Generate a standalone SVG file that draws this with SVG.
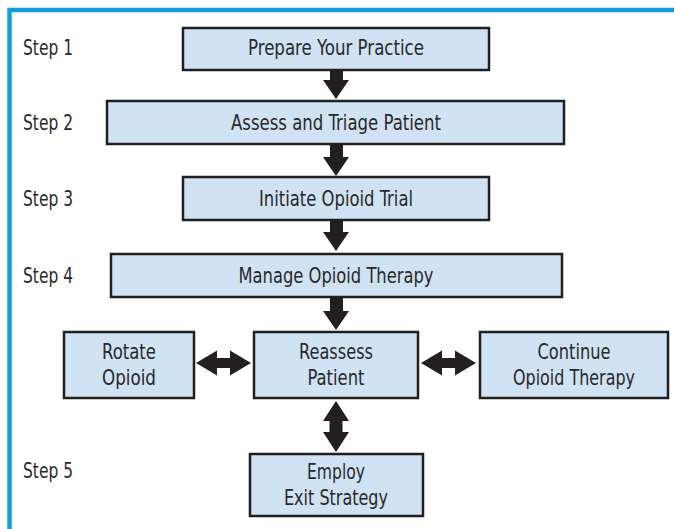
<svg xmlns="http://www.w3.org/2000/svg" width="674" height="529" viewBox="0 0 674 529">
<defs>
<style>
.box{fill:#cfe3f4;stroke:#231f20;stroke-width:2.5}
.t{font-family:"Liberation Sans Narrow","DejaVu Sans Condensed","Liberation Sans",sans-serif;font-size:21.5px;fill:#2b2828}
.c{text-anchor:middle}
.arr{fill:#231f20}
</style>
</defs>
<rect width="674" height="529" fill="#ffffff"/>
<path d="M9.5 529 V10 H674" fill="none" stroke="#139fdc" stroke-width="4.5"/>
<g id="labels">
<text class="t" x="23" y="55" textLength="50" lengthAdjust="spacingAndGlyphs">Step 1</text>
<text class="t" x="23" y="130" textLength="50" lengthAdjust="spacingAndGlyphs">Step 2</text>
<text class="t" x="23" y="206" textLength="50" lengthAdjust="spacingAndGlyphs">Step 3</text>
<text class="t" x="23" y="283" textLength="50" lengthAdjust="spacingAndGlyphs">Step 4</text>
<text class="t" x="23" y="478" textLength="50" lengthAdjust="spacingAndGlyphs">Step 5</text>
</g>
<g id="connectors">
<path class="arr" d="M330 70 H343 V80 H349 L336 99 L323 80 H330 Z"/>
<path class="arr" d="M330 144 H343 V157 H349 L336 176 L323 157 H330 Z"/>
<path class="arr" d="M330 220 H343 V232 H349 L336 251 L323 232 H330 Z"/>
<path class="arr" d="M330 297 H343 V311 H349 L336 330 L323 311 H330 Z"/>
<path class="arr" d="M336 401 L349 421 H342.5 V432 H349 L336 452 L323 432 H329.5 V421 H323 Z"/>
<path class="arr" d="M196 363 L217 350.5 V358 H230 V350.5 L251 363 L230 375.5 V368 H217 V375.5 Z"/>
<path class="arr" d="M421 363 L442 350.5 V358 H455 V350.5 L476 363 L455 375.5 V368 H442 V375.5 Z"/>
</g>
<g id="n1"><rect class="box" x="183" y="28" width="306" height="42"/><text class="t c" x="336" y="55" textLength="176" lengthAdjust="spacingAndGlyphs">Prepare Your Practice</text></g>
<g id="n2"><rect class="box" x="107" y="101" width="457" height="43"/><text class="t c" x="336" y="130" textLength="210" lengthAdjust="spacingAndGlyphs">Assess and Triage Patient</text></g>
<g id="n3"><rect class="box" x="183" y="177" width="306" height="43"/><text class="t c" x="336" y="206" textLength="154" lengthAdjust="spacingAndGlyphs">Initiate Opioid Trial</text></g>
<g id="n4"><rect class="box" x="111" y="254" width="451" height="43"/><text class="t c" x="336" y="283" textLength="195" lengthAdjust="spacingAndGlyphs">Manage Opioid Therapy</text></g>
<g id="n5"><rect class="box" x="64" y="332" width="130" height="66"/><text class="t c" x="129" y="359" textLength="54" lengthAdjust="spacingAndGlyphs">Rotate</text><text class="t c" x="129" y="384.5" textLength="54" lengthAdjust="spacingAndGlyphs">Opioid</text></g>
<g id="n6"><rect class="box" x="254" y="332" width="164" height="66"/><text class="t c" x="336" y="359" textLength="74" lengthAdjust="spacingAndGlyphs">Reassess</text><text class="t c" x="336" y="384.5" textLength="57" lengthAdjust="spacingAndGlyphs">Patient</text></g>
<g id="n7"><rect class="box" x="480" y="332" width="188" height="66"/><text class="t c" x="574" y="359" textLength="73" lengthAdjust="spacingAndGlyphs">Continue</text><text class="t c" x="574" y="384.5" textLength="122" lengthAdjust="spacingAndGlyphs">Opioid Therapy</text></g>
<g id="n8"><rect class="box" x="250" y="454" width="173" height="62"/><text class="t c" x="336" y="479" textLength="58" lengthAdjust="spacingAndGlyphs">Employ</text><text class="t c" x="336" y="505" textLength="104" lengthAdjust="spacingAndGlyphs">Exit Strategy</text></g>
</svg>
